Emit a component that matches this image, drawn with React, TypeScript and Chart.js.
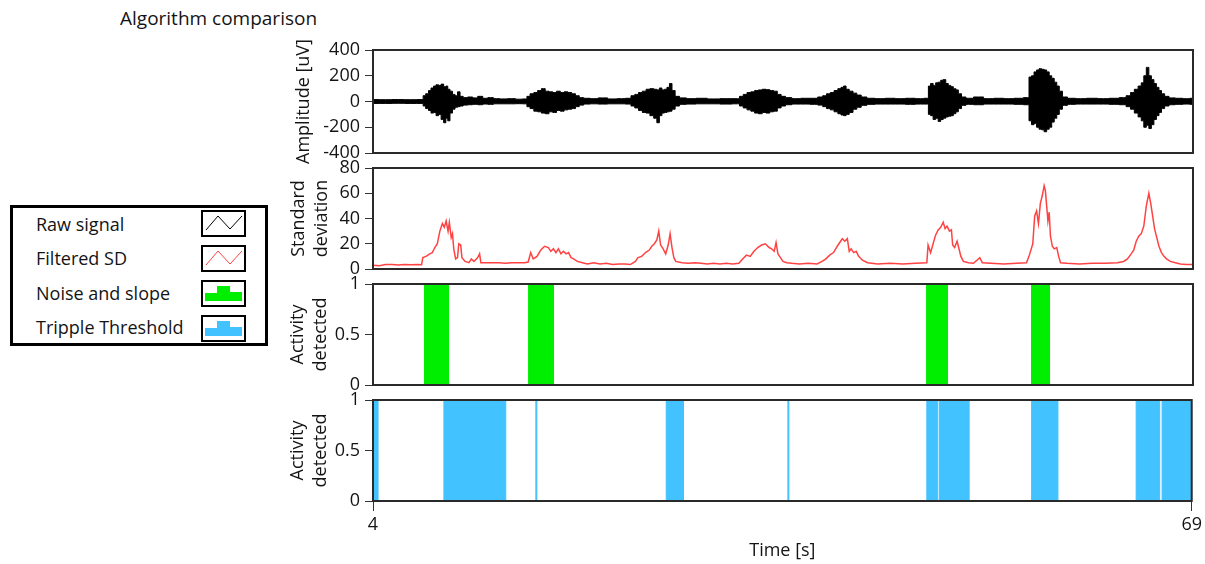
import React, { useEffect, useRef } from 'react';
import { Chart, registerables } from 'chart.js';

Chart.register(...registerables);

const FONT = '"Open Sans", "Noto Sans", sans-serif';
const TEXT = '#141414';

// ---- axis ticks ----
const timeRange = [4, 69];
const timeTicks = [4, 69];
const ampTicks = [-400, -200, 0, 200, 400];
const sdTicks = [0, 20, 40, 60, 80];
const actTicks = [0, 0.5, 1];

// ---- Raw signal envelope: [time s, max uV, min uV] ----
const rawEnvelope: [number, number, number][] = [
  [4, 15, -15], [5, 14, -15], [6, 15, -14], [7, 14, -15], [7.9, 15, -15],
  [8.05, 45, -35], [8.3, 60, -55], [8.5, 85, -70], [8.7, 105, -90], [8.9, 120, -85],
  [9.1, 130, -110], [9.3, 125, -100], [9.5, 135, -140], [9.7, 115, -165], [9.85, 120, -130],
  [10.0, 95, -150], [10.2, 80, -90], [10.4, 55, -60], [10.6, 45, -45], [10.8, 75, -40],
  [11.0, 40, -35], [11.3, 30, -28], [11.7, 35, -25], [12.1, 28, -22], [12.5, 40, -25],
  [12.9, 25, -20], [13.3, 30, -22], [13.8, 22, -18], [14.3, 20, -18], [15.0, 22, -18],
  [15.6, 18, -17], [16.1, 20, -18], [16.3, 40, -40], [16.6, 60, -55], [16.9, 70, -75],
  [17.2, 85, -80], [17.5, 100, -90], [17.8, 80, -95], [18.1, 75, -80], [18.4, 70, -85],
  [18.7, 80, -70], [19.0, 70, -75], [19.3, 75, -65], [19.6, 70, -60], [19.9, 60, -55],
  [20.2, 45, -40], [20.5, 30, -28], [20.9, 25, -20], [21.5, 22, -18], [22.2, 28, -20],
  [23.0, 20, -18], [23.7, 22, -18], [24.3, 25, -20], [24.6, 45, -35], [24.9, 55, -50],
  [25.2, 70, -70], [25.5, 80, -85], [25.8, 95, -90], [26.1, 100, -110], [26.4, 95, -130],
  [26.6, 90, -165], [26.8, 105, -110], [27.0, 90, -90], [27.2, 95, -85], [27.4, 110, -80],
  [27.6, 140, -75], [27.8, 85, -60], [28.1, 40, -35], [28.5, 28, -22], [29.2, 22, -20],
  [30.0, 25, -18], [31.0, 20, -18], [32.0, 22, -20], [32.9, 22, -18], [33.2, 40, -35],
  [33.5, 55, -50], [33.8, 70, -65], [34.1, 75, -75], [34.4, 85, -90], [34.7, 90, -95],
  [35.0, 95, -85], [35.3, 92, -90], [35.6, 85, -80], [35.9, 80, -75], [36.2, 55, -50],
  [36.5, 40, -35], [36.9, 30, -25], [37.5, 22, -20], [38.3, 25, -20], [39.0, 25, -22],
  [39.5, 35, -28], [39.8, 45, -40], [40.1, 60, -55], [40.4, 70, -65], [40.7, 85, -80],
  [41.0, 100, -95], [41.2, 110, -105], [41.4, 120, -110], [41.6, 95, -100], [41.9, 80, -85],
  [42.2, 65, -60], [42.5, 50, -45], [42.9, 35, -30], [43.4, 25, -22], [44.2, 22, -20],
  [45.0, 25, -20], [45.8, 22, -20], [46.6, 25, -22], [47.4, 22, -20], [47.95, 25, -20],
  [48.1, 120, -100], [48.3, 140, -110], [48.5, 125, -140], [48.7, 145, -130], [48.9, 150, -155],
  [49.1, 165, -140], [49.3, 170, -130], [49.5, 140, -120], [49.7, 125, -115], [49.9, 115, -110],
  [50.1, 100, -95], [50.3, 90, -80], [50.5, 60, -55], [50.8, 35, -30], [51.2, 25, -22],
  [52.0, 35, -25], [52.8, 22, -20], [53.6, 25, -20], [54.4, 22, -20], [55.2, 25, -22],
  [55.9, 30, -25], [56.1, 190, -150], [56.3, 200, -180], [56.5, 230, -170], [56.7, 245, -200],
  [56.9, 255, -215], [57.1, 250, -220], [57.3, 245, -235], [57.5, 230, -215], [57.7, 200, -200],
  [57.9, 180, -160], [58.1, 150, -130], [58.3, 120, -100], [58.5, 80, -60], [58.8, 35, -30],
  [59.3, 25, -22], [60.1, 22, -20], [61.0, 25, -20], [61.9, 22, -20], [62.8, 25, -22],
  [63.5, 30, -25], [63.9, 45, -40], [64.2, 70, -60], [64.5, 95, -90], [64.8, 120, -120],
  [65.0, 145, -150], [65.2, 200, -200], [65.4, 265, -185], [65.6, 200, -210], [65.8, 170, -180],
  [66.0, 140, -140], [66.2, 110, -110], [66.4, 85, -85], [66.6, 60, -55], [66.9, 40, -35],
  [67.3, 28, -25], [67.9, 25, -22], [68.5, 22, -20], [69, 25, -22],
];

// ---- Filtered SD: [time s, value] ----
const filteredSD: [number, number][] = [
  [4.0, 3], [4.5, 2.5], [5.0, 3.5], [5.5, 3.5], [6.0, 3.2], [6.5, 3.5], [7.0, 3.3], [7.5, 3.5],
  [7.85, 3.3], [7.95, 9], [8.2, 10], [8.5, 12], [8.7, 13], [8.9, 17], [9.1, 20], [9.3, 30],
  [9.5, 36], [9.65, 33], [9.8, 38], [9.95, 30], [10.05, 37], [10.2, 25], [10.3, 28], [10.4, 16],
  [10.55, 8], [10.7, 9], [10.8, 20], [10.95, 19], [11.05, 9], [11.3, 6], [11.6, 5], [11.8, 8],
  [12.0, 6], [12.3, 9], [12.45, 12], [12.55, 5], [13.0, 5], [13.5, 5], [14.0, 5], [14.5, 4.5],
  [15.0, 5], [15.5, 5], [16.0, 5], [16.3, 5.5], [16.5, 13], [16.7, 8], [17.0, 10], [17.3, 15],
  [17.6, 18], [17.9, 17], [18.1, 14], [18.3, 16], [18.5, 13], [18.7, 16], [18.9, 12], [19.1, 14],
  [19.3, 12], [19.5, 13], [19.7, 9], [19.9, 8], [20.2, 6], [20.6, 5], [21.0, 4], [21.5, 5],
  [22.0, 4], [22.5, 4.5], [23.0, 3.5], [23.5, 4], [24.0, 4], [24.4, 3.5], [24.8, 6], [25.0, 9],
  [25.3, 10], [25.6, 13], [25.9, 15], [26.1, 18], [26.3, 20], [26.5, 23], [26.65, 30], [26.8, 19],
  [27.0, 16], [27.2, 12], [27.4, 19], [27.55, 28], [27.7, 17], [27.85, 9], [28.0, 6], [28.5, 5],
  [29.0, 4.5], [29.5, 5], [30.0, 4.5], [30.5, 4], [31.0, 4.5], [31.5, 4], [32.0, 4.5], [32.5, 4],
  [33.0, 4.5], [33.3, 8], [33.6, 11], [33.9, 10], [34.2, 14], [34.5, 17], [34.8, 19], [35.1, 20],
  [35.4, 17], [35.6, 16], [35.8, 14], [35.95, 21], [36.1, 12], [36.3, 9], [36.5, 6], [36.8, 5],
  [37.2, 4.5], [37.8, 4], [38.5, 4.5], [39.2, 4], [39.6, 6], [39.9, 8], [40.2, 11], [40.5, 13],
  [40.8, 18], [41.0, 21], [41.2, 24], [41.4, 22], [41.6, 24], [41.75, 14], [41.9, 16], [42.1, 13],
  [42.3, 14], [42.5, 10], [42.8, 7], [43.2, 5], [44.0, 4], [45.0, 4.5], [46.0, 4], [47.0, 4.5],
  [47.9, 5], [48.0, 19], [48.2, 13], [48.4, 20], [48.6, 27], [48.8, 31], [49.0, 33], [49.2, 37],
  [49.35, 32], [49.5, 34], [49.7, 30], [49.85, 31], [49.95, 19], [50.1, 17], [50.3, 22], [50.45, 16],
  [50.6, 10], [50.8, 6], [51.2, 5], [51.6, 4.5], [52.1, 9], [52.3, 5], [53.0, 4.5], [54.0, 4],
  [55.0, 4.5], [55.8, 5], [56.0, 10], [56.3, 20], [56.45, 42], [56.6, 46], [56.75, 36], [56.9, 52],
  [57.05, 58], [57.2, 66], [57.3, 62], [57.4, 50], [57.5, 38], [57.6, 45], [57.7, 26], [57.85, 18],
  [58.0, 16], [58.2, 17], [58.35, 10], [58.5, 5], [59.0, 4.5], [60.0, 4], [61.0, 4.5], [62.0, 4.5],
  [63.0, 5], [63.5, 6], [63.8, 8], [64.1, 12], [64.3, 15], [64.5, 22], [64.7, 26], [64.9, 28],
  [65.1, 34], [65.3, 50], [65.5, 60], [65.65, 52], [65.8, 42], [65.95, 32], [66.1, 26], [66.3, 18],
  [66.5, 13], [66.7, 10], [66.9, 8], [67.2, 6], [67.6, 5], [68.0, 4], [68.5, 3.5], [69.0, 3.5],
];

// ---- Activity detection (value holds from each time until the next) ----
const noiseSlopeTimes = [4, 8.12, 9.95, 16.37, 18.27, 47.92, 49.5, 56.24, 57.59, 69];
const noiseSlopeValues = [0, 1, 0, 1, 0, 1, 0, 1, 0, 0];

const trippleTimes = [4, 4.4, 9.63, 14.54, 16.93, 17.01, 27.28, 28.65, 36.94, 37.02,
  47.97, 48.81, 48.95, 51.33, 56.29, 58.38, 64.59, 66.46, 66.65, 69];
const trippleValues = [1, 0, 1, 0, 1, 0, 1, 0, 1, 0, 1, 0, 1, 0, 1, 0, 1, 0, 1, 1];

const GREEN = '#00ee00';
const BLUE = '#42c2ff';
const RED = '#ff4242';
const FS = 18;
const PAD = 16;

const framePlugin = {
  id: 'frame',
  afterDatasetsDraw(chart: any) {
    const { ctx, chartArea: a } = chart;
    ctx.save();
    ctx.strokeStyle = '#2a2a2a';
    ctx.lineWidth = 2;
    ctx.strokeRect(a.left, a.top, a.right - a.left, a.bottom - a.top);
    ctx.restore();
  },
};

const tickFont = { family: FONT, size: FS };

function buildConfig(o: {
  datasets: any[]; yMin: number; yMax: number; yTicks: number[];
  yTitle: string | string[]; titlePad: number; bottom: boolean;
}): any {
  const xScale: any = {
    type: 'linear',
    min: timeRange[0],
    max: timeRange[1],
    display: o.bottom,
    afterBuildTicks: (s: any) => { s.ticks = timeTicks.map((v) => ({ value: v })); },
    grid: { drawOnChartArea: false, drawTicks: true, tickLength: 10, tickColor: '#333' },
    border: { display: false },
    ticks: { font: tickFont, color: TEXT, padding: 3, maxRotation: 0, autoSkip: false },
    title: { display: true, text: 'Time [s]', font: tickFont, color: TEXT, padding: { top: 0, bottom: 2 } },
  };
  if (o.bottom) xScale.afterFit = (s: any) => { s.height = 63; };
  return {
    type: 'line',
    data: { datasets: o.datasets },
    options: {
      responsive: false,
      maintainAspectRatio: false,
      animation: false,
      layout: { padding: { top: PAD, bottom: o.bottom ? 0 : PAD, left: 0, right: 12 } },
      plugins: { legend: { display: false }, tooltip: { enabled: false } },
      elements: { point: { radius: 0 } },
      scales: {
        x: xScale,
        y: {
          type: 'linear',
          min: o.yMin,
          max: o.yMax,
          afterBuildTicks: (s: any) => { s.ticks = o.yTicks.map((v) => ({ value: v })); },
          afterFit: (s: any) => { s.width = 93; },
          grid: { drawOnChartArea: false, drawTicks: true, tickLength: 8, tickColor: '#333' },
          border: { display: false },
          ticks: { font: tickFont, color: TEXT, padding: 5, autoSkip: false, callback: (v: any) => String(v) },
          title: {
            display: true, text: o.yTitle, font: { family: FONT, size: FS, lineHeight: 1.25 },
            color: TEXT, padding: { top: o.titlePad, bottom: 0 },
          },
        },
      },
    },
    plugins: [framePlugin],
  };
}

const stepData = (times: number[], values: number[]) => times.map((t, i) => ({ x: t, y: values[i] }));

export default function App() {
  const r1 = useRef<HTMLCanvasElement>(null);
  const r2 = useRef<HTMLCanvasElement>(null);
  const r3 = useRef<HTMLCanvasElement>(null);
  const r4 = useRef<HTMLCanvasElement>(null);

  useEffect(() => {
    const charts: Chart[] = [];
    charts.push(new Chart(r1.current!, buildConfig({
      datasets: [
        {
          label: 'Raw signal max', data: rawEnvelope.map((p) => ({ x: p[0], y: p[1] })),
          borderColor: '#000', backgroundColor: '#000', borderWidth: 1, fill: '+1', stepped: 'middle',
        },
        {
          label: 'Raw signal min', data: rawEnvelope.map((p) => ({ x: p[0], y: p[2] })),
          borderColor: '#000', backgroundColor: '#000', borderWidth: 1, fill: false, stepped: 'middle',
        },
      ],
      yMin: -400, yMax: 400, yTicks: ampTicks, yTitle: 'Amplitude [uV]', titlePad: 13, bottom: false,
    })));
    charts.push(new Chart(r2.current!, buildConfig({
      datasets: [{
        label: 'Filtered SD', data: filteredSD.map((p) => ({ x: p[0], y: p[1] })),
        borderColor: RED, borderWidth: 1.5, fill: false, tension: 0,
      }],
      yMin: 0, yMax: 80, yTicks: sdTicks, yTitle: ['Standard', 'deviation'], titlePad: 8, bottom: false,
    })));
    charts.push(new Chart(r3.current!, buildConfig({
      datasets: [{
        label: 'Noise and slope', data: stepData(noiseSlopeTimes, noiseSlopeValues),
        borderColor: GREEN, backgroundColor: GREEN, borderWidth: 2, fill: 'origin', stepped: 'before',
      }],
      yMin: 0, yMax: 1, yTicks: actTicks, yTitle: ['Activity', 'detected'], titlePad: 7, bottom: false,
    })));
    charts.push(new Chart(r4.current!, buildConfig({
      datasets: [{
        label: 'Tripple Threshold', data: stepData(trippleTimes, trippleValues),
        borderColor: BLUE, backgroundColor: BLUE, borderWidth: 1, fill: 'origin', stepped: 'before',
      }],
      yMin: 0, yMax: 1, yTicks: actTicks, yTitle: ['Activity', 'detected'], titlePad: 7, bottom: true,
    })));
    return () => charts.forEach((c) => c.destroy());
  }, []);

  const canvasStyle = (top: number, height: number): React.CSSProperties => ({
    position: 'absolute', left: 280, top, width: 925, height,
  });

  const legendItems = [
    { label: 'Raw signal', y: 224, kind: 'line', color: '#000' },
    { label: 'Filtered SD', y: 258, kind: 'line', color: RED },
    { label: 'Noise and slope', y: 293, kind: 'step', color: GREEN },
    { label: 'Tripple Threshold', y: 327, kind: 'step', color: BLUE },
  ];

  // plot areas: [top, bottom] in page pixels
  const c1 = { top: 50 - PAD, h: 153 - 50 + 2 * PAD };
  const c2 = { top: 168 - PAD, h: 269 - 168 + 2 * PAD };
  const c3 = { top: 284 - PAD, h: 385 - 284 + 2 * PAD };
  const c4 = { top: 400 - PAD, h: 564 - (400 - PAD) };

  return (
    <div style={{ position: 'absolute', left: 0, top: 0, width: 1205, height: 564, background: '#fff', fontFamily: FONT, color: TEXT }}>
      <div style={{ position: 'absolute', left: 120, top: 6, fontSize: 19, lineHeight: '24px', whiteSpace: 'nowrap' }}>
        Algorithm comparison
      </div>

      <div style={{ position: 'absolute', left: 10, top: 205, width: 258, height: 141, border: '3px solid #000', boxSizing: 'border-box' }} />
      {legendItems.map((it, i) => (
        <React.Fragment key={i}>
          <div style={{ position: 'absolute', left: 36, top: it.y - 12, fontSize: FS, lineHeight: '24px', whiteSpace: 'nowrap' }}>
            {it.label}
          </div>
          <svg width={45} height={27} style={{ position: 'absolute', left: 201, top: 210 + i * 35 }}>
            <rect x={1} y={1} width={43} height={25} fill="#fff" stroke="#000" strokeWidth={2} />
            {it.kind === 'line' ? (
              <polyline points="5,20 17,6 29,19 41,6" fill="none" stroke={it.color} strokeWidth={1} />
            ) : (
              <path d="M4,21 V13 H16 V6 H29 V12 H41 V21 Z" fill={it.color} />
            )}
          </svg>
        </React.Fragment>
      ))}

      <canvas ref={r1} width={925} height={c1.h} style={canvasStyle(c1.top, c1.h)} />
      <canvas ref={r2} width={925} height={c2.h} style={canvasStyle(c2.top, c2.h)} />
      <canvas ref={r3} width={925} height={c3.h} style={canvasStyle(c3.top, c3.h)} />
      <canvas ref={r4} width={925} height={c4.h} style={canvasStyle(c4.top, c4.h)} />
    </div>
  );
}
